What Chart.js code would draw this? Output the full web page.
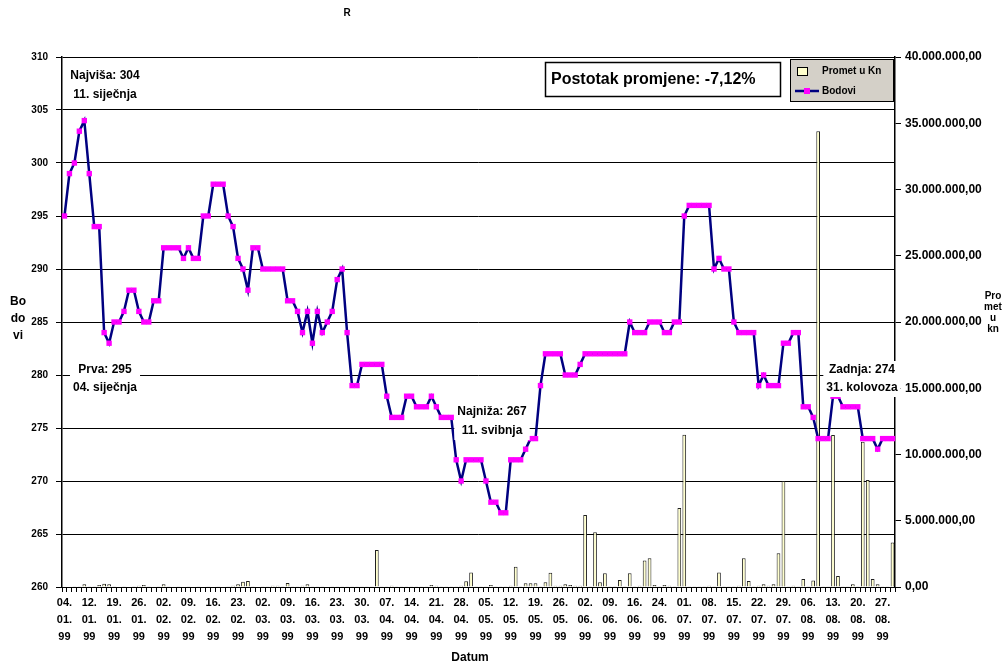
<!DOCTYPE html>
<html lang="hr">
<head>
<meta charset="UTF-8">
<title>Bodovi i promet 1999</title>
<script src="https://cdn.jsdelivr.net/npm/chart.js@4"></script>
<style>
  html, body { margin: 0; padding: 0; background: #fff; }
  #wrap { width: 1006px; height: 666px; }
</style>
</head>
<body>
<div id="wrap"><canvas id="chart" width="1006" height="666"></canvas></div>
<script>
// trading days of 1999 (day of month), holidays left out
const days01 = [4,5,7,8,11,12,13,14,15,18,19,20,21,22,25,26,27,28,29];
const days02 = [1,2,3,4,5,8,9,10,11,12,15,16,17,18,19,22,23,24,25,26];
const days03 = [1,2,3,4,5,8,9,10,11,12,15,16,17,18,19,22,23,24,25,26,29,30,31];
const days04 = [1,2,6,7,8,9,12,13,14,15,16,19,20,21,22,23,26,27,28,29,30];
const days05 = [3,4,5,6,7,10,11,12,13,14,17,18,19,20,21,24,25,26,27,28,31];
const days06 = [1,2,3,4,7,8,9,10,11,14,15,16,17,18,21,23,24,25,28,29,30];
const days07 = [1,2,5,6,7,8,9,12,13,14,15,16,19,20,21,22,23,26,27,28,29,30];
const days08 = [2,3,4,6,9,10,11,12,13,16,17,18,19,20,23,24,25,26,27,30,31];

// Bodovi (index), per month
const bod01 = [295,299,300,303,304,299,294,294,284,283,285,285,286,288,288,286,285,285,287];
const bod02 = [287,292,292,292,292,291,292,291,291,295,295,298,298,298,295,294,291,290,288,292];
const bod03 = [292,290,290,290,290,290,287,287,286,284,286,283,286,284,285,286,289,290,284,279,279,281,281];
const bod04 = [281,281,281,278,276,276,276,278,278,277,277,277,278,277,276,276,276,272,270,272,272];
const bod05 = [272,272,270,268,268,267,267,272,272,272,273,274,274,279,282,282,282,282,280,280,280];
const bod06 = [281,282,282,282,282,282,282,282,282,282,285,284,284,284,285,285,285,284,284,285,285];
const bod07 = [295,296,296,296,296,296,290,291,290,290,285,284,284,284,284,279,280,279,279,279,283,283];
const bod08 = [284,284,277,277,276,274,274,274,278,278,277,277,277,277,274,274,274,273,274,274,274];

// Promet u Kn, millions, per month
const pro01 = [0,0,0.05,0.05,0.2,0.05,0.05,0.15,0.25,0.2,0.05,0,0.05,0,0.05,0.1,0.15,0.05,0];
const pro02 = [0.05,0.2,0.05,0,0.05,0,0.05,0,0.05,0,0.05,0,0.05,0,0.05,0.1,0.2,0.4,0.45,0.05];
const pro03 = [0,0.05,0.05,0.1,0.1,0.05,0.3,0.05,0.05,0.1,0.2,0.05,0.05,0.05,0,0.05,0.05,0.05,0.05,0.05,0.05,0.05,0.05];
const pro04 = [0.05,2.8,0.05,0.05,0.1,0.05,0.05,0.05,0.05,0.05,0.05,0.05,0.15,0.1,0.05,0.05,0.05,0.05,0.1,0.43,1.1];
const pro05 = [0.05,0.05,0.05,0.15,0.05,0.05,0.05,0.1,1.53,0.05,0.28,0.28,0.28,0.05,0.35,1.08,0.1,0.1,0.2,0.15,0.1];
const pro06 = [0.1,5.43,0.05,4.13,0.35,1.03,0.05,0.05,0.53,0.05,1.03,0.05,0.1,2.0,2.17,0.15,0.05,0.15,0.1,0.05,5.96];
const pro07 = [11.5,0.05,0.05,0.05,0.05,0.1,0.05,1.1,0.05,0.05,0.05,0.1,2.17,0.45,0.05,0.1,0.2,0.1,0.2,2.54,8.0,0.05];
const pro08 = [0.1,0.05,0.6,0.05,0.5,34.4,0.05,0.05,11.47,0.83,0.05,0.05,0.2,0.05,10.97,8.08,0.6,0.2,0.05,0.05,3.35];

const tickEvery = 5;
const monthNames = ['01','02','03','04','05','06','07','08'];
const dayLists = [days01,days02,days03,days04,days05,days06,days07,days08];

const dates = [];
dayLists.forEach((list, m) => list.forEach(d => {
  dates.push(String(d).padStart(2, '0') + '.' + monthNames[m] + '.99');
}));
const bodovi = [].concat(bod01,bod02,bod03,bod04,bod05,bod06,bod07,bod08);
const promet = [].concat(pro01,pro02,pro03,pro04,pro05,pro06,pro07,pro08);

const FONT = "'Liberation Sans', Arial, sans-serif";

function fmtKn(v) {
  const n = Math.round(v * 1000000);
  return String(n).replace(/\B(?=(\d{3})+(?!\d))/g, '.') + ',00';
}

function boxText(ctx, lines, cx, y0, gap, bg) {
  ctx.font = 'bold 12px ' + FONT;
  ctx.textAlign = 'center';
  ctx.textBaseline = 'middle';
  if (bg) {
    let w = 0;
    lines.forEach(l => { w = Math.max(w, ctx.measureText(l).width); });
    ctx.fillStyle = '#fff';
    ctx.fillRect(cx - w / 2 - 3, y0 - 9, w + 6, gap * (lines.length - 1) + 18);
  }
  ctx.fillStyle = '#000';
  lines.forEach((l, i) => ctx.fillText(l, cx, y0 + i * gap));
}

const decor = {
  id: 'decor',
  afterDatasetsDraw(chart) {
    const ctx = chart.ctx;
    ctx.save();
    boxText(ctx, ['Najviša: 304', '11. siječnja'], 105, 76, 19, true);
    boxText(ctx, ['Prva: 295', '04. siječnja'], 105, 370, 18, true);
    boxText(ctx, ['Najniža: 267', '11. svibnja'], 492, 412, 19, true);
    boxText(ctx, ['Zadnja: 274', '31. kolovoza'], 862, 370, 18, true);
    ctx.restore();
  },
  afterDraw(chart) {
    const ctx = chart.ctx;
    ctx.save();
    ctx.fillStyle = '#000';
    ctx.textBaseline = 'middle';
    ctx.textAlign = 'center';
    ctx.font = 'bold 10px ' + FONT;
    ctx.fillText('R', 347, 13);

    ctx.font = 'bold 12px ' + FONT;
    ctx.fillText('Datum', 470, 658);
    ['Bo', 'do', 'vi'].forEach((t, i) => ctx.fillText(t, 18, 302 + i * 17));
    ctx.font = 'bold 10px ' + FONT;
    ['Pro', 'met', 'u', 'kn'].forEach((t, i) => ctx.fillText(t, 993, 296 + i * 11));

    // percentage box
    ctx.fillStyle = '#fff';
    ctx.fillRect(545.5, 62.5, 235, 34);
    ctx.strokeStyle = '#000';
    ctx.lineWidth = 1.5;
    ctx.strokeRect(545.5, 62.5, 235, 34);
    ctx.fillStyle = '#000';
    ctx.textAlign = 'left';
    ctx.font = 'bold 16px ' + FONT;
    ctx.fillText('Postotak promjene: -7,12%', 551, 80);

    // legend
    ctx.fillStyle = '#d4d0c8';
    ctx.fillRect(790.5, 59.5, 103, 42);
    ctx.lineWidth = 1;
    ctx.strokeRect(790.5, 59.5, 103, 42);
    ctx.fillStyle = '#ffffcc';
    ctx.fillRect(797.5, 67.5, 10, 8);
    ctx.strokeRect(797.5, 67.5, 10, 8);
    ctx.strokeStyle = '#000080';
    ctx.lineWidth = 2.5;
    ctx.beginPath();
    ctx.moveTo(795, 91);
    ctx.lineTo(819, 91);
    ctx.stroke();
    ctx.fillStyle = '#ff00ff';
    ctx.fillRect(804, 88, 6, 6);
    ctx.fillStyle = '#000';
    ctx.font = 'bold 10px ' + FONT;
    ctx.fillText('Promet u Kn', 822, 71);
    ctx.fillText('Bodovi', 822, 91);
    ctx.restore();
  }
};

const tickFont = { family: FONT, size: 10, weight: 'bold' };

new Chart(document.getElementById('chart'), {
  type: 'bar',
  data: {
    labels: dates,
    datasets: [
      {
        type: 'line',
        label: 'Bodovi',
        data: bodovi,
        yAxisID: 'y',
        borderColor: '#000080',
        borderWidth: 2.5,
        tension: 0,
        pointStyle: 'rect',
        pointRadius: 3.8,
        pointBorderWidth: 0,
        pointBackgroundColor: '#ff00ff',
        pointBorderColor: '#ff00ff',
        order: 0
      },
      {
        type: 'bar',
        label: 'Promet u Kn',
        data: promet,
        yAxisID: 'y1',
        backgroundColor: '#ffffcc',
        borderColor: '#202020',
        borderWidth: 1,
        barPercentage: 0.75,
        categoryPercentage: 1,
        order: 1
      }
    ]
  },
  options: {
    responsive: false,
    animation: false,
    layout: { padding: { top: 57, left: 0, right: 0, bottom: 0 } },
    plugins: { legend: { display: false }, tooltip: { enabled: false } },
    scales: {
      x: {
        offset: true,
        grid: { offset: true, drawOnChartArea: false, drawTicks: true, tickLength: 5, color: '#000' },
        border: { color: '#000', width: 1 },
        ticks: {
          autoSkip: false, maxRotation: 0, minRotation: 0, padding: 2, color: '#000',
          font: { family: FONT, size: 11, weight: 'bold', lineHeight: 1.55 },
          callback: (v, i) => i % tickEvery === 0 ? [dates[i].slice(0, 3), dates[i].slice(3, 6), dates[i].slice(6)] : ''
        },
        afterFit: s => { s.height = 79; }
      },
      y: {
        position: 'left',
        min: 260, max: 310,
        ticks: { stepSize: 5, padding: 8, color: '#000', font: tickFont },
        grid: { color: '#000', lineWidth: 1, tickLength: 6 },
        border: { color: '#000', width: 1.5 },
        afterFit: s => { s.width = 62; }
      },
      y1: {
        position: 'right',
        min: 0, max: 40,
        ticks: { stepSize: 5, padding: 4, color: '#000', font: { family: FONT, size: 12, weight: 'bold' }, callback: v => fmtKn(v) },
        grid: { drawOnChartArea: false, color: '#000', tickLength: 6 },
        border: { color: '#000', width: 1.5 },
        afterFit: s => { s.width = 111; }
      }
    }
  },
  plugins: [decor]
});
</script>
</body>
</html>
